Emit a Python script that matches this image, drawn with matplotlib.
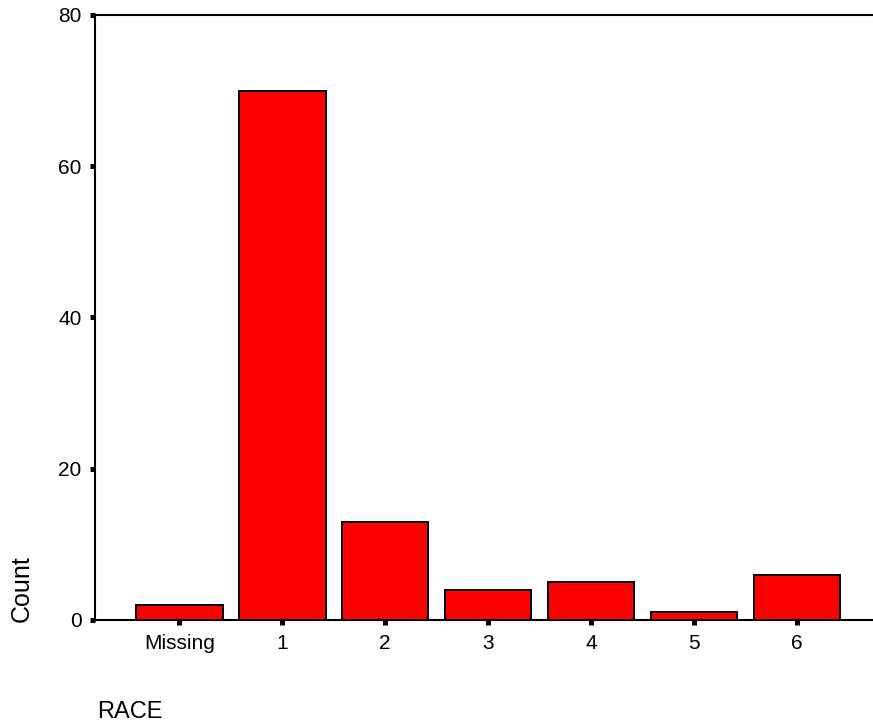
import matplotlib.pyplot as plt

# datos
categorias = ['Missing', '1', '2', '3', '4', '5', '6']
conteos = [2, 70, 13, 4, 5, 1, 6]
y_ticks = [0, 20, 40, 60, 80]

plt.rcParams['font.family'] = ['Liberation Sans', 'DejaVu Sans']

fig = plt.figure(figsize=(8.73, 7.27), dpi=100)
ax = fig.add_axes([0.1088, 0.1472, 0.8912, 0.8322])

x = list(range(len(categorias)))
ax.bar(x, conteos, width=0.84, color='#ff0000', edgecolor='black', linewidth=1.4, zorder=3)

ax.set_xlim(-0.82, 6.74)
ax.set_ylim(0, 80)
ax.set_xticks(x)
ax.set_xticklabels(categorias, fontsize=15)
ax.set_yticks(y_ticks)
ax.set_yticklabels([str(v) for v in y_ticks], fontsize=15)

ax.tick_params(axis='x', length=3.6, width=3.6, direction='out', pad=6.5)
ax.tick_params(axis='y', length=3.6, width=3.6, direction='out', pad=6)

for lado in ['left', 'bottom', 'top']:
    ax.spines[lado].set_linewidth(1.5)
ax.spines['right'].set_visible(False)

fig.text(0.0252, 0.1444, 'Count', rotation=90, fontsize=18, ha='center', va='bottom')
fig.text(0.111, 0.0124, 'RACE', fontsize=17, ha='left', va='baseline')

fig.savefig('out.png', dpi=100)
